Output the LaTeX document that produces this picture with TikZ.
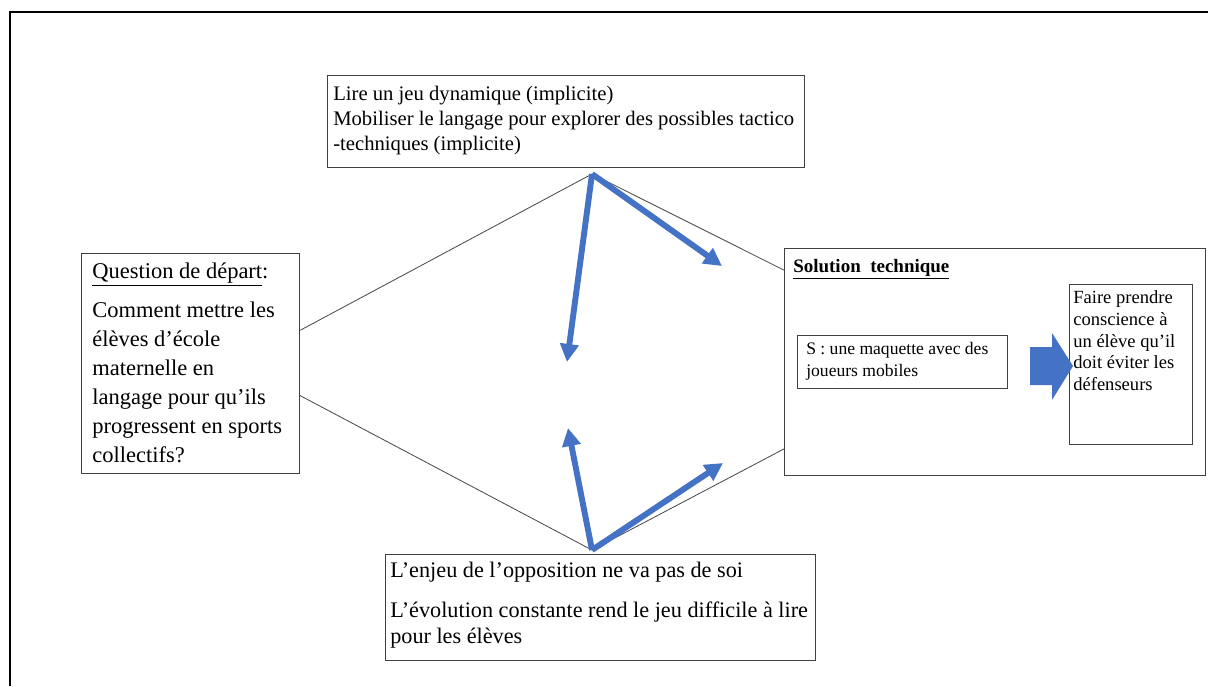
\documentclass[tikz,border=0pt]{standalone}
\usepackage{fontspec}
\setmainfont{Liberation Serif}
\usetikzlibrary{arrows.meta,calc}
\definecolor{bleu}{RGB}{68,114,196}

\begin{document}
\begin{tikzpicture}[x=0.025cm,y=-0.025cm,
   boite/.style={draw=black!75, line width=0.7pt},
   texte/.style={inner sep=0pt, align=left, anchor=north west},
   trait/.style={draw=black!70, line width=0.6pt},
   fleche/.style={draw=bleu, line width=4.2pt, -{Triangle[length=0.45cm,width=0.45cm]}}]
\useasboundingbox (0,0) rectangle (1208,686);
\draw[line width=1.7pt] (10,686) -- (10,12) -- (1208,12);
% les boites
\node[boite, minimum width=11.925cm, minimum height=2.3cm, anchor=north west] (lire) at (327,75) {};
\node[texte, font=\fontsize{14.7}{17.8}\selectfont] (lireT) at (333,86)
   {Lire un jeu dynamique (implicite)\\Mobiliser le langage pour explorer des possibles tactico\\-techniques (implicite)};
\node[boite, minimum width=5.45cm, minimum height=5.5cm, anchor=north west] (question) at (81,253) {};
\node[texte, font=\fontsize{16}{20.6}\selectfont] (questionT) at (92,263)
   {\underline{Question de départ}:\\[7pt]Comment mettre les\\élèves d’école\\maternelle en\\langage pour qu’ils\\progressent en sports\\collectifs?};
\node[boite, minimum width=10.75cm, minimum height=2.65cm, anchor=north west] (enjeu) at (385,554) {};
\node[texte, font=\fontsize{15.8}{18.5}\selectfont] (enjeuT) at (390,562)
   {L’enjeu de l’opposition ne va pas de soi\\[10pt]L’évolution constante rend le jeu difficile à lire\\pour les élèves};
\node[boite, minimum width=10.525cm, minimum height=5.675cm, anchor=north west] (sol) at (784,248) {};
\node[texte, font=\fontsize{13.5}{16}\selectfont\bfseries] (solT) at (793,259) {\underline{Solution\ \ technique}};
\node[boite, minimum width=5.25cm, minimum height=1.325cm, anchor=north west] (maq) at (797,335) {};
\node[texte, font=\fontsize{12.5}{15.6}\selectfont] (maqT) at (806,342) {S : une maquette avec des\\joueurs mobiles};
\node[boite, minimum width=3.075cm, minimum height=4cm, anchor=north west] (faire) at (1069,284) {};
\node[texte, font=\fontsize{13.2}{15.6}\selectfont] (faireT) at (1073,290)
   {Faire prendre\\conscience à\\un élève qu’il\\doit éviter les\\défenseurs};
% le losange
\coordinate (sommetH) at (592,174);
\coordinate (sommetB) at (592,550);
\draw[trait] ($(question.north east)!0.35!(question.south east)$) -- (sommetH)
   -- ($(sol.north west)!0.097!(sol.south west)$);
\draw[trait] ($(question.north east)!0.645!(question.south east)$) -- (sommetB)
   -- ($(sol.north west)!0.881!(sol.south west)$);
% les fleches
\coordinate (finA) at (567,362);
\coordinate (finB) at (722,266);
\coordinate (finC) at (568,428);
\coordinate (finD) at (723,463);
\draw[fleche] (sommetH) -- (finA);
\draw[fleche] (sommetH) -- (finB);
\draw[fleche] (sommetB) -- (finC);
\draw[fleche] (sommetB) -- (finD);
\fill[bleu] (1030,347) -- (1052,347) -- (1052,333) -- (1073,366) -- (1052,400)
   -- (1052,385) -- (1030,385) -- cycle;
\end{tikzpicture}
\end{document}
